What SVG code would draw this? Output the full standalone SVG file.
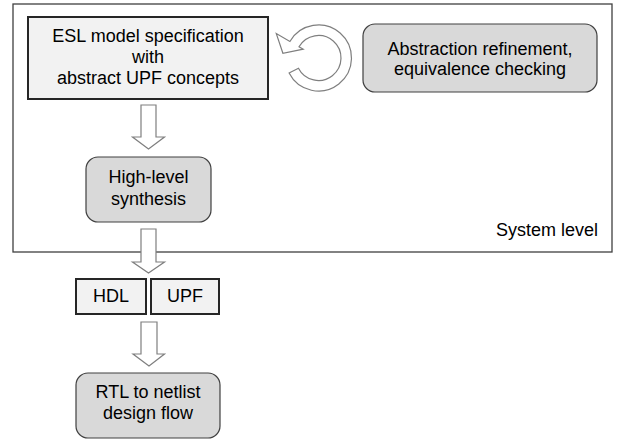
<svg xmlns="http://www.w3.org/2000/svg" width="621" height="441" viewBox="0 0 621 441">
<style>
text{font-family:"Liberation Sans",Arial,sans-serif;font-size:18px;fill:#000;text-anchor:middle}
.sq{fill:#f2f2f2;stroke:#262626;stroke-width:2}
.rd{fill:#d9d9d9;stroke:#404040;stroke-width:1.2}
.ba{fill:#fff;stroke:#7f7f7f;stroke-width:1.2;stroke-linejoin:miter}
</style>
<rect id="system" x="13" y="4" width="599" height="248" fill="#fff" stroke="#404040" stroke-width="1.3"/>
<text x="598" y="236" style="text-anchor:end">System level</text>
<g id="esl">
<rect class="sq" x="28" y="17" width="240" height="82"/>
<text x="148" y="42">ESL model specification</text>
<text x="148" y="63">with</text>
<text x="148" y="84">abstract UPF concepts</text>
</g>
<g id="abstraction">
<rect class="rd" x="363" y="24" width="234" height="68" rx="12"/>
<text x="480" y="55">Abstraction refinement,</text>
<text x="480" y="75">equivalence checking</text>
</g>
<g id="hls">
<rect class="rd" x="86" y="157" width="125" height="65" rx="12"/>
<text x="148.5" y="183">High-level</text>
<text x="148.5" y="205">synthesis</text>
</g>
<g id="hdl">
<rect class="sq" x="76" y="279" width="70" height="35"/>
<text x="111" y="302">HDL</text>
</g>
<g id="upf">
<rect class="sq" x="151" y="279" width="68" height="35"/>
<text x="185" y="302">UPF</text>
</g>
<g id="rtl">
<rect class="rd" x="76" y="373" width="144" height="65" rx="12"/>
<text x="148" y="398">RTL to netlist</text>
<text x="148" y="419">design flow</text>
</g>
<g id="connectors">
<path class="ba" d="M141 105 H156 V137 H164.5 L148.5 149 L132.5 137 H141 Z"/>
<path class="ba" d="M141 229 H156 V262 H164.5 L148.5 273 L132.5 262 H141 Z"/>
<path class="ba" d="M141 322 H157 V354 H164.5 L149 366 L133 354 H141 Z"/>
<path class="ba" d="M289.1 73 A33 33 0 1 0 289.9 41.5 L276.3 33.6 L282.9 53.3 L303.2 49.2 L299 46.75 A22.5 22.5 0 1 1 298.45 68.2 Z"/>
</g>
</svg>
